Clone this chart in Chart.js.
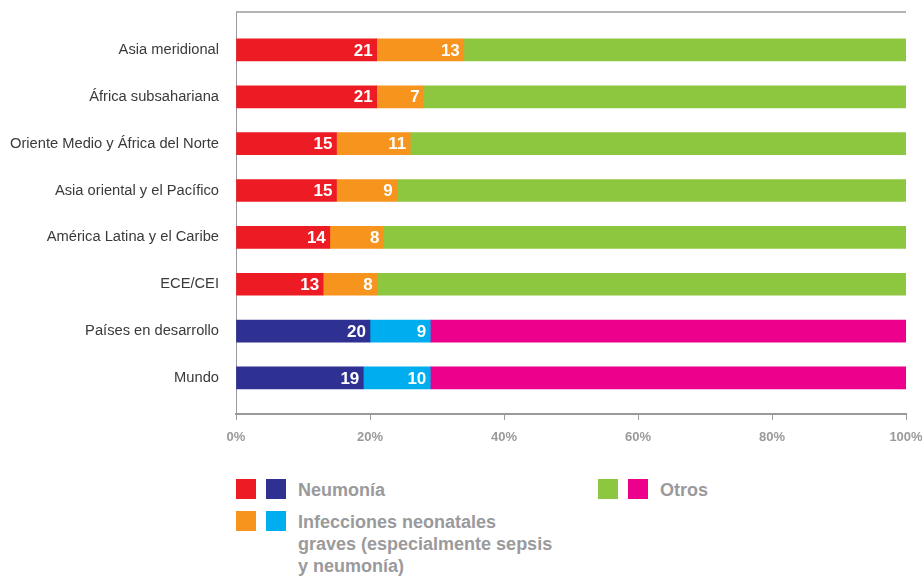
<!DOCTYPE html>
<html lang="es">
<head>
    <meta charset="UTF-8">
    <title>Neumonía e infecciones neonatales</title>
    <script src="https://cdn.jsdelivr.net/npm/chart.js"></script>
    <style>
        body { margin: 0; background: #fff; }
        #wrap { position: relative; width: 922px; height: 576px; }
        #chartBox { position: absolute; left: 0; top: 0; width: 922px; height: 452px; }
        .legend { position: absolute; font-family: "Liberation Sans", Arial, sans-serif; font-weight: bold; font-size: 18px; color: #9a9a9c; line-height: 22px; }
        .sw { position: absolute; width: 20px; height: 20px; }
    </style>
</head>
<body>
<div id="wrap">
    <div id="chartBox"><canvas id="chart"></canvas></div>

    <!-- Legend -->
    <div class="sw" style="left:236px;top:479px;background:#ED1C24"></div>
    <div class="sw" style="left:266px;top:479px;background:#2E3192"></div>
    <div class="legend" style="left:298px;top:479px;">Neumonía</div>

    <div class="sw" style="left:598px;top:479px;background:#8DC63F"></div>
    <div class="sw" style="left:628px;top:479px;background:#EC008C"></div>
    <div class="legend" style="left:660px;top:479px;">Otros</div>

    <div class="sw" style="left:236px;top:511px;background:#F7941D"></div>
    <div class="sw" style="left:266px;top:511px;background:#00AEEF"></div>
    <div class="legend" style="left:298px;top:511px;">Infecciones neonatales<br>graves (especialmente sepsis<br>y neumonía)</div>
</div>

<script>
    // Data (percent)
    const categories = [
        "Asia meridional",
        "África subsahariana",
        "Oriente Medio y África del Norte",
        "Asia oriental y el Pacífico",
        "América Latina y el Caribe",
        "ECE/CEI",
        "Países en desarrollo",
        "Mundo"
    ];
    const neumonia = [21, 21, 15, 15, 14, 13, 20, 19];
    const infecciones = [13, 7, 11, 9, 8, 8, 9, 10];
    const otros = [66, 72, 74, 76, 78, 79, 71, 71];
    const xTicks = [0, 20, 40, 60, 80, 100];

    // Regions use red/orange/green, aggregates use blue/cyan/magenta
    const isAggregate = [false, false, false, false, false, false, true, true];
    const colNeu = isAggregate.map(a => a ? "#2E3192" : "#ED1C24");
    const colInf = isAggregate.map(a => a ? "#00AEEF" : "#F7941D");
    const colOtr = isAggregate.map(a => a ? "#EC008C" : "#8DC63F");

    const toPoints = arr => arr.map((v, i) => ({ x: v, y: i }));

    const sans = '"Liberation Sans", Arial, sans-serif';

    // White value labels inside the first two segments
    const valueLabels = {
        id: "valueLabels",
        afterDatasetsDraw(chart) {
            const ctx = chart.ctx;
            ctx.save();
            ctx.fillStyle = "#fff";
            ctx.font = "bold 17px " + sans;
            ctx.textAlign = "right";
            ctx.textBaseline = "middle";
            [0, 1].forEach(di => {
                const meta = chart.getDatasetMeta(di);
                meta.data.forEach((bar, i) => {
                    const v = chart.data.datasets[di].data[i].x;
                    ctx.fillText(String(v), bar.x - 4, bar.y + 1);
                });
            });
            ctx.restore();
        }
    };

    // Thin grey frame line on top of the plot
    const topLine = {
        id: "topLine",
        afterDraw(chart) {
            const { ctx, chartArea } = chart;
            ctx.save();
            ctx.strokeStyle = "#9a9a9c";
            ctx.lineWidth = 1.5;
            ctx.beginPath();
            ctx.moveTo(chartArea.left, chartArea.top);
            ctx.lineTo(chartArea.right, chartArea.top);
            ctx.stroke();
            ctx.restore();
        }
    };

    new Chart(document.getElementById("chart"), {
        type: "bar",
        data: {
            datasets: [
                { label: "Neumonía", data: toPoints(neumonia), backgroundColor: colNeu },
                { label: "Infecciones neonatales graves", data: toPoints(infecciones), backgroundColor: colInf },
                { label: "Otros", data: toPoints(otros), backgroundColor: colOtr }
            ]
        },
        options: {
            indexAxis: "y",
            responsive: true,
            maintainAspectRatio: false,
            animation: false,
            barThickness: 22,
            layout: { padding: { top: 12, right: 16, left: 0, bottom: 0 } },
            plugins: { legend: { display: false }, tooltip: { enabled: false } },
            scales: {
                x: {
                    type: "linear",
                    stacked: true,
                    min: 0,
                    max: 100,
                    afterBuildTicks: s => { s.ticks = xTicks.map(v => ({ value: v })); },
                    afterFit: s => { s.height = 38; s.paddingLeft = 0; s.paddingRight = 0; },
                    grid: { drawOnChartArea: false, tickLength: 6, color: "#9a9a9c", lineWidth: 1 },
                    border: { color: "#9a9a9c", width: 2 },
                    ticks: {
                        callback: v => v + "%",
                        color: "#9a9a9c",
                        font: { family: sans, size: 13, weight: "bold" },
                        padding: 10,
                        maxRotation: 0
                    }
                },
                y: {
                    type: "linear",
                    stacked: true,
                    reverse: true,
                    offset: false,
                    min: -0.81,
                    max: 7.77,
                    afterBuildTicks: s => { s.ticks = categories.map((c, i) => ({ value: i })); },
                    afterFit: s => { s.width = 236; s.paddingTop = 0; s.paddingBottom = 0; },
                    grid: { display: false },
                    border: { color: "#9a9a9c", width: 1 },
                    ticks: {
                        autoSkip: false,
                        callback: v => categories[v],
                        color: "#3a3a3a",
                        font: { family: sans, size: 14.7 },
                        padding: 9
                    }
                }
            }
        },
        plugins: [valueLabels, topLine]
    });
</script>
</body>
</html>
